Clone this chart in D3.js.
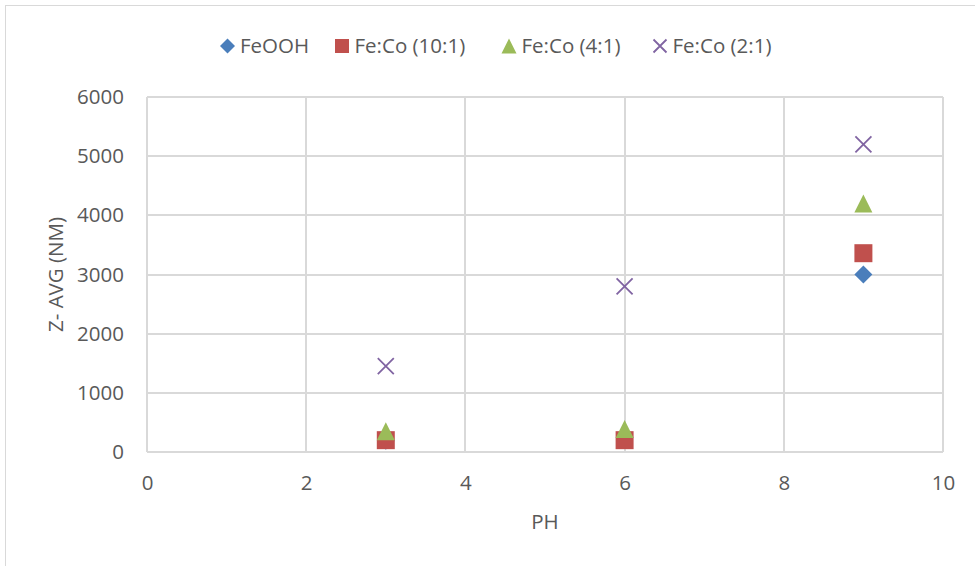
<!DOCTYPE html>
<html>
<head>
<meta charset="utf-8">
<script src="https://cdn.jsdelivr.net/npm/d3@7"></script>
<style>
  body { margin: 0; background: #fff; }
  text { font-family: "Open Sans", "Noto Sans", sans-serif; fill: #595959; }
</style>
</head>
<body>
<div class="chart"></div>
<script>
var svgWidth = 975;
var svgHeight = 566;

var margin = { top: 97, right: 32, bottom: 114, left: 147 };
var width = svgWidth - margin.left - margin.right;
var height = svgHeight - margin.top - margin.bottom;

// data
var phValues = [3, 6, 9];
var seriesNames = ["FeOOH", "Fe:Co (10:1)", "Fe:Co (4:1)", "Fe:Co (2:1)"];
var feoohValues = [190, 250, 3000];
var fe10Values = [200, 200, 3360];
var fe4Values = [350, 390, 4200];
var fe2Values = [1450, 2800, 5200];
var xTicks = [0, 2, 4, 6, 8, 10];
var yTicks = [0, 1000, 2000, 3000, 4000, 5000, 6000];

var colors = ["#4a7ebb", "#c0504d", "#9bbb59", "#8064a2"];
var shapes = ["diamond", "square", "triangle", "cross"];

var series = [feoohValues, fe10Values, fe4Values, fe2Values].map(function(vals, i) {
  return {
    name: seriesNames[i],
    color: colors[i],
    shape: shapes[i],
    points: phValues.map(function(p, j) { return { x: p, y: vals[j] }; })
  };
});

// marker path for a given shape and size (bounding box s)
function markerPath(shape, s) {
  var h = s / 2;
  var p = d3.path();
  if (shape === "diamond") {
    p.moveTo(0, -h); p.lineTo(h, 0); p.lineTo(0, h); p.lineTo(-h, 0); p.closePath();
  } else if (shape === "square") {
    p.rect(-h, -h, s, s);
  } else if (shape === "triangle") {
    p.moveTo(0, -h); p.lineTo(h, h); p.lineTo(-h, h); p.closePath();
  } else {
    p.moveTo(-h, -h); p.lineTo(h, h); p.moveTo(h, -h); p.lineTo(-h, h);
  }
  return p.toString();
}

function drawMarker(sel, shape, color, s) {
  sel.attr("d", markerPath(shape, s))
    .attr("fill", shape === "cross" ? "none" : color)
    .attr("stroke", shape === "cross" ? color : "none")
    .attr("stroke-width", shape === "cross" ? 1.8 : 0);
}

var svg = d3.select(".chart")
  .append("svg")
  .attr("width", svgWidth)
  .attr("height", svgHeight);

// outer chart border
svg.append("rect")
  .attr("x", 5.5)
  .attr("y", 5.5)
  .attr("width", 1000)
  .attr("height", 600)
  .attr("fill", "none")
  .attr("stroke", "#d9d9d9");

var chartGroup = svg.append("g")
  .attr("transform", `translate(${margin.left}, ${margin.top})`);

var xScale = d3.scaleLinear().domain([0, 10]).range([0, width]);
var yScale = d3.scaleLinear().domain([0, 6000]).range([height, 0]);

// gridlines
chartGroup.append("g")
  .selectAll("line")
  .data(yTicks)
  .enter()
  .append("line")
  .attr("x1", 0)
  .attr("x2", width)
  .attr("y1", d => Math.round(yScale(d)))
  .attr("y2", d => Math.round(yScale(d)))
  .attr("stroke", "#d9d9d9")
  .attr("stroke-width", 2);

chartGroup.append("g")
  .selectAll("line")
  .data(xTicks)
  .enter()
  .append("line")
  .attr("y1", 0)
  .attr("y2", height)
  .attr("x1", d => Math.round(xScale(d)))
  .attr("x2", d => Math.round(xScale(d)))
  .attr("stroke", "#d9d9d9")
  .attr("stroke-width", 2);

// axes (labels only)
var bottomAxis = d3.axisBottom(xScale).tickValues(xTicks).tickSize(0).tickPadding(23);
var leftAxis = d3.axisLeft(yScale).tickValues(yTicks).tickSize(0).tickPadding(23)
  .tickFormat(d3.format("d"));

var xAxis = chartGroup.append("g")
  .attr("transform", `translate(0, ${height})`)
  .call(bottomAxis);
var yAxis = chartGroup.append("g").call(leftAxis);

[xAxis, yAxis].forEach(function(ax) {
  ax.select(".domain").remove();
  ax.selectAll("text")
    .attr("font-family", null)
    .style("font-size", "20.5px")
    .attr("fill", "#595959");
});

// points
series.forEach(function(s) {
  chartGroup.append("g")
    .selectAll("path")
    .data(s.points)
    .enter()
    .append("path")
    .attr("transform", d => `translate(${xScale(d.x)}, ${yScale(d.y)})`)
    .call(drawMarker, s.shape, s.color, s.shape === "cross" ? 16 : 18);
});

// axis titles
svg.append("text")
  .attr("x", margin.left + width / 2)
  .attr("y", 529)
  .attr("text-anchor", "middle")
  .style("font-size", "20.5px")
  .text("PH");

svg.append("text")
  .attr("transform", "rotate(-90)")
  .attr("x", -(margin.top + height / 2))
  .attr("y", 63)
  .attr("text-anchor", "middle")
  .style("font-size", "20.5px")
  .text("Z- AVG (NM)");

// legend
var legendX = [227.5, 342, 509, 660];
var legend = svg.append("g");
series.forEach(function(s, i) {
  legend.append("path")
    .attr("transform", `translate(${legendX[i]}, 46)`)
    .call(drawMarker, s.shape, s.color, s.shape === "cross" ? 13 : (s.shape === "square" ? 14 : 15));
  legend.append("text")
    .attr("x", legendX[i] + 12.5)
    .attr("y", 53)
    .style("font-size", "20.5px")
    .text(s.name);
});
</script>
</body>
</html>
